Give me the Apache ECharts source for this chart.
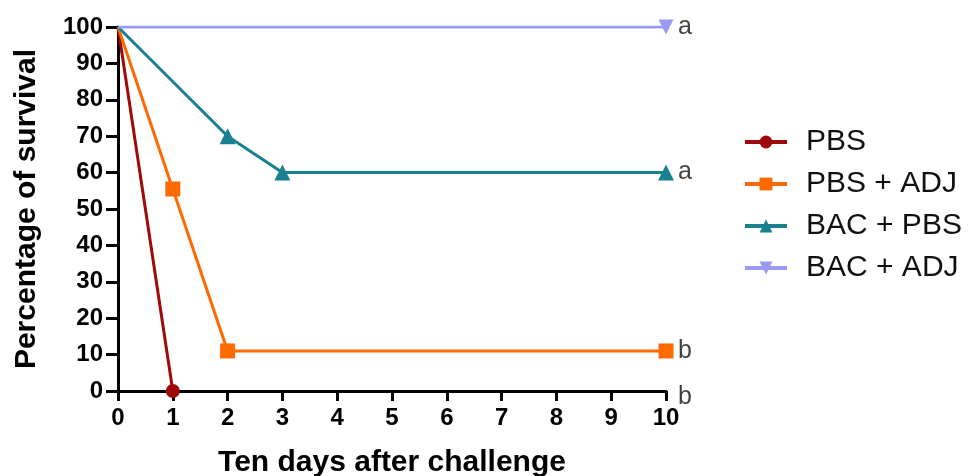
<!DOCTYPE html>
<html><head><meta charset="utf-8">
<script src="https://cdn.jsdelivr.net/npm/echarts@6/dist/echarts.min.js"></script>
<style>html,body{margin:0;padding:0;background:#fff}#c{width:972px;height:476px}</style>
</head><body><div id="c"></div>
<script>
const xTicks = [0,1,2,3,4,5,6,7,8,9,10];
const yTicks = [0,10,20,30,40,50,60,70,80,90,100];
const seriesNames = ['PBS', 'PBS + ADJ', 'BAC + PBS', 'BAC + ADJ'];
const pbsDays = [0, 1];
const pbsVals = [100, 0];
const pbsAdjDays = [0, 1, 2, 10];
const pbsAdjVals = [100, 55.5, 11, 11];
const bacPbsDays = [0, 2, 3, 10];
const bacPbsVals = [100, 70, 60, 60];
const bacAdjDays = [0, 10];
const bacAdjVals = [100, 100];
const letterDays = [10, 10, 10, 10];
const letterVals = [100, 60, 11, 0];
const letters = ['a', 'a', 'b', 'b'];

const colors = ['#9E0A0A', '#FF6A00', '#18808F', '#9A9AF5'];
const symbols = ['circle', 'rect', 'triangle', 'path://M0,0 L10,0 L5,10 Z'];
const sizes = [14, 15, 16, 15];

function pts(d, v) { return d.map((x, i) => ({ value: [x, v[i]], symbolSize: i === 0 ? 0 : undefined })); }
const all = [[pbsDays, pbsVals], [pbsAdjDays, pbsAdjVals], [bacPbsDays, bacPbsVals], [bacAdjDays, bacAdjVals]];

const series = all.map((p, k) => ({
  name: seriesNames[k],
  type: 'line',
  data: pts(p[0], p[1]),
  symbol: symbols[k],
  symbolSize: sizes[k],
  showAllSymbol: true,
  color: colors[k],
  lineStyle: { width: 3, color: colors[k] },
  itemStyle: { color: colors[k] },
  z: 3 + (k === 3 ? 1 : 0),
  animation: false
}));
series.push({
  type: 'scatter',
  name: 'letters',
  data: letterDays.map((x, i) => ({ value: [x, letterVals[i]], name: letters[i] })),
  symbolSize: 0,
  label: { show: true, position: 'right', distance: 12, formatter: p => p.name, color: '#111', fontSize: 25, fontFamily: 'Liberation Sans' },
  silent: true,
  animation: false
});
series[4].data[3].label = { offset: [0, 6] };

const chart = echarts.init(document.getElementById('c'));
chart.setOption({
  backgroundColor: '#fff',
  grid: { left: 118, right: 306, top: 27, bottom: 85, containLabel: false, outerBoundsMode: 'none' },
  legend: {
    data: seriesNames,
    orient: 'vertical',
    left: 738, top: 122,
    itemWidth: 42, itemHeight: 16, itemGap: 12,
    lineStyle: { width: 4 },
    textStyle: { fontSize: 30, fontFamily: 'Liberation Sans', color: '#111', padding: [0, 0, 0, 14] }
  },
  xAxis: {
    type: 'value', min: 0, max: 10, interval: 1,
    name: 'Ten days after challenge', nameLocation: 'middle', nameGap: 57,
    nameTextStyle: { fontSize: 30, fontWeight: 'bold', fontFamily: 'Liberation Sans', color: '#000' },
    axisLine: { show: true, onZero: false, lineStyle: { color: '#000', width: 3 } },
    axisTick: { show: true, length: 10, lineStyle: { color: '#000', width: 3 } },
    axisLabel: { fontSize: 24, fontWeight: 'bold', fontFamily: 'Liberation Sans', color: '#000', margin: 15 },
    splitLine: { show: false }
  },
  yAxis: {
    type: 'value', min: 0, max: 100, interval: 10,
    name: 'Percentage of survival', nameLocation: 'middle', nameGap: 76,
    nameTextStyle: { fontSize: 30, fontWeight: 'bold', fontFamily: 'Liberation Sans', color: '#000' },
    axisLine: { show: true, onZero: false, lineStyle: { color: '#000', width: 3 } },
    axisTick: { show: true, length: 12, lineStyle: { color: '#000', width: 3 } },
    axisLabel: { fontSize: 24, fontWeight: 'bold', fontFamily: 'Liberation Sans', color: '#000', margin: 15 },
    splitLine: { show: false }
  },
  series: series
});
</script></body></html>
